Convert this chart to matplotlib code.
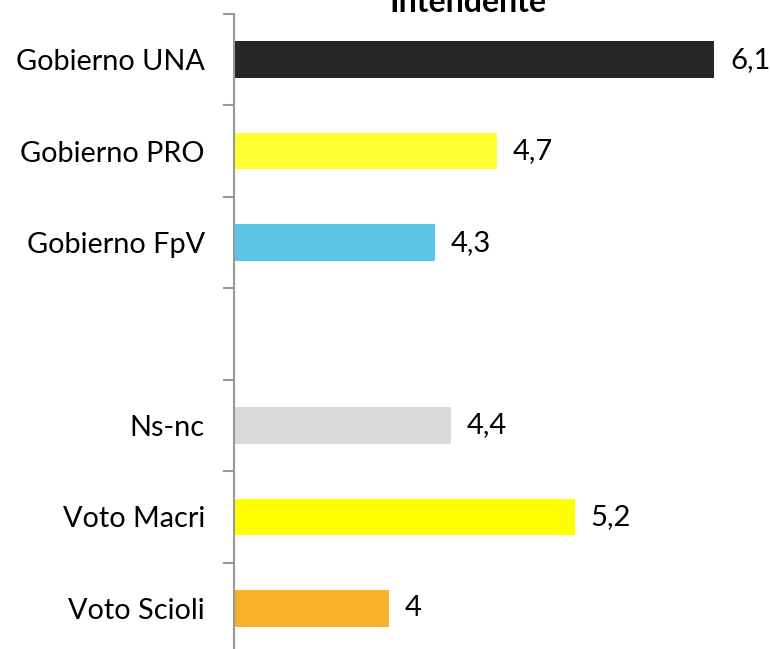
import numpy as np
import matplotlib.pyplot as plt

plt.rcParams['font.family'] = ['Lato', 'DejaVu Sans']

# data
categories = ["Gobierno UNA", "Gobierno PRO", "Gobierno FpV", "", "Ns-nc", "Voto Macri", "Voto Scioli"]
values = [6.1, 4.7, 4.3, None, 4.4, 5.2, 4.0]
value_labels = ["6,1", "4,7", "4,3", "", "4,4", "5,2", "4"]
colors = ["#262626", "#FFFF33", "#5BC5E8", "white", "#D9D9D9", "#FFFF00", "#F8B12A"]
title = "Intendente"

fig = plt.figure(figsize=(7.7, 6.49), dpi=100)
ax = fig.add_axes([0.3039, -0.0077, 0.7045, 0.9861])

xmin = 3.0
pos = np.arange(len(categories))
for i, v in enumerate(values):
    if v is None:
        continue
    ax.barh(pos[i], v - xmin, left=xmin, height=0.4, color=colors[i])
    ax.text(v + 0.1, pos[i], value_labels[i], va="center", ha="left", fontsize=21)

ax.set_xlim(xmin, 6.5)
ax.set_ylim(len(categories) - 0.5, -0.5)

ax.set_yticks(pos)
ax.set_yticklabels(categories, fontsize=20.8)
ax.tick_params(axis="y", which="major", length=0, pad=21)
ax.set_yticks(np.arange(len(categories) + 1) - 0.5, minor=True)
ax.tick_params(axis="y", which="minor", length=8, width=1.5, color="#999999")
ax.set_xticks([])

for s in ["top", "right", "bottom"]:
    ax.spines[s].set_visible(False)
ax.spines["left"].set_color("#999999")
ax.spines["left"].set_linewidth(1.5)

fig.text(0.607, 1 - 12 / 649, title, ha="center", va="baseline", fontsize=23, fontweight="bold")

fig.savefig("out.png", dpi=100)
